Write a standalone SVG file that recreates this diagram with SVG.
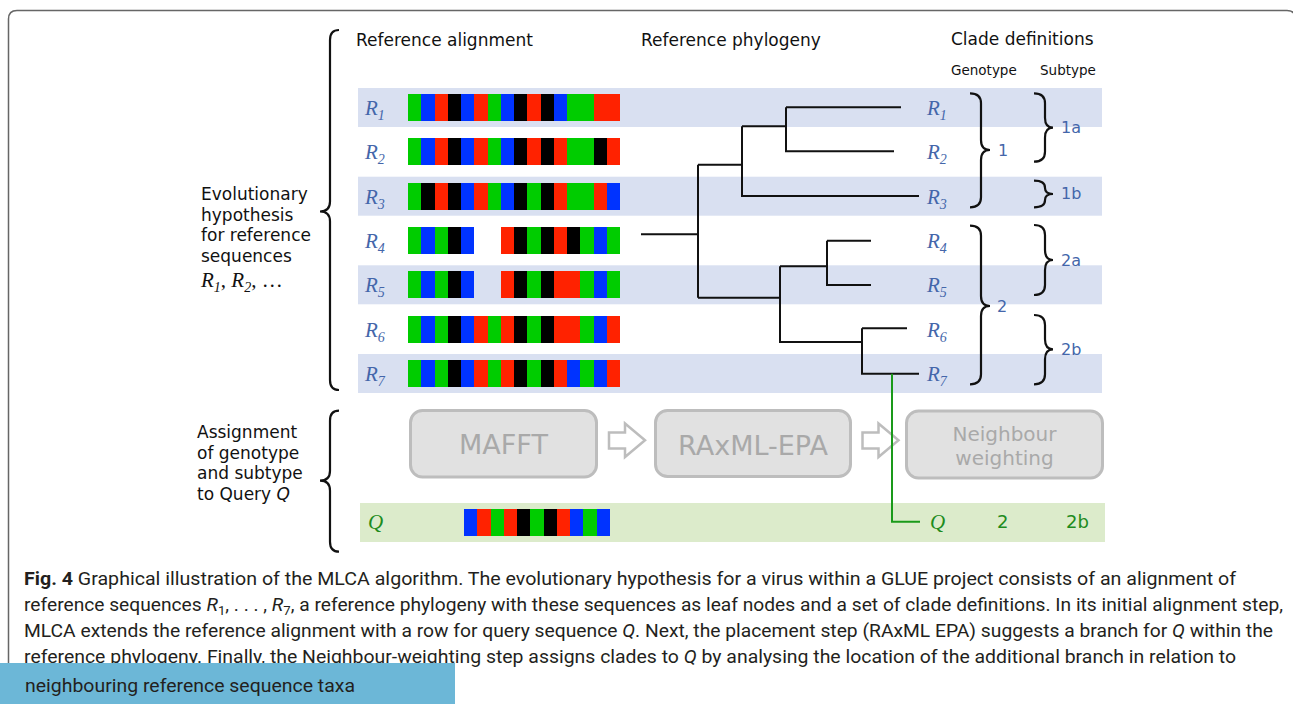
<svg xmlns="http://www.w3.org/2000/svg" width="1293" height="704" viewBox="0 0 1293 704">
<style>
.sans{font-family:"DejaVu Sans","Verdana",sans-serif;}
.hdr{font-family:"DejaVu Sans",sans-serif;font-size:17px;fill:#111;}
.small{font-family:"DejaVu Sans",sans-serif;font-size:13.5px;fill:#111;}
.rl{font-family:"Liberation Serif","Times New Roman",serif;font-style:italic;font-size:21px;fill:#4466aa;}
.sub{font-size:14px;}
.clade{font-family:"DejaVu Sans",sans-serif;font-size:16px;fill:#4466aa;}
.qg{fill:#1e8c1e;}
.band{fill:#d9e0f1;}
.g{fill:#00cc00;} .b{fill:#0033ff;} .r{fill:#ff2200;} .k{fill:#000;}
.cells rect{shape-rendering:crispEdges;}
.brace{fill:none;stroke:#111;stroke-width:2.2;}
.tree{fill:none;stroke:#111;stroke-width:2;}
.box{fill:#e1e1e1;stroke:#bdbdbd;stroke-width:3;}
.boxt{font-family:"DejaVu Sans",sans-serif;fill:#a9a9a9;text-anchor:middle;}
.arrow{fill:#fff;stroke:#bdbdbd;stroke-width:2.5;stroke-linejoin:miter;}
.cap{font-family:"Liberation Sans Narrow","Roboto","Open Sans",sans-serif;font-size:19px;fill:#231f20;}
</style>

<!-- frame -->
<path d="M8.5,704 V19 Q8.5,10.5 17,10.5 H1287 Q1295.5,10.5 1295.5,19 V704" fill="none" stroke="#666" stroke-width="1.5"/>

<!-- headers -->
<g id="headers">
<text class="hdr" x="356" y="46">Reference alignment</text>
<text class="hdr" x="641" y="46">Reference phylogeny</text>
<text class="hdr" x="951" y="45">Clade definitions</text>
<text class="small" x="951" y="75">Genotype</text>
<text class="small" x="1040" y="75">Subtype</text>
</g>

<!-- row bands -->
<g id="bands">
<rect class="band" x="358" y="88" width="744" height="39"/>
<rect class="band" x="358" y="176.7" width="744" height="39"/>
<rect class="band" x="358" y="265.3" width="744" height="39"/>
<rect class="band" x="358" y="354" width="744" height="39"/>
<rect x="360" y="503" width="745" height="39" fill="#dcebcb"/>
</g>

<!-- left group labels -->
<g id="label-evolutionary">
<path class="brace" d="M339,30 Q330,30 330,40 V201.5 Q330,211.5 320,211.5 Q330,211.5 330,221.5 V380 Q330,390 339,390"/>
<text class="hdr" x="201" y="200">Evolutionary</text>
<text class="hdr" x="201" y="220.7">hypothesis</text>
<text class="hdr" x="201" y="241.4">for reference</text>
<text class="hdr" x="201" y="262.1">sequences</text>
<text x="201" y="287" style="font-family:'Liberation Serif',serif;font-size:21px;fill:#111;"><tspan font-style="italic">R</tspan><tspan class="sub" font-style="italic" dy="5">1</tspan><tspan dy="-5">, </tspan><tspan font-style="italic">R</tspan><tspan class="sub" font-style="italic" dy="5">2</tspan><tspan dy="-5">, …</tspan></text>
</g>

<g id="label-assignment">
<path class="brace" d="M339,410.7 Q330,410.7 330,420.7 V470.7 Q330,480.7 320,480.7 Q330,480.7 330,490.7 V541.7 Q330,551.7 339,551.7"/>
<text class="hdr" x="197" y="438">Assignment</text>
<text class="hdr" x="197" y="458.7">of genotype</text>
<text class="hdr" x="197" y="479.4">and subtype</text>
<text class="hdr" x="197" y="500">to Query <tspan font-style="italic">Q</tspan></text>
</g>

<!-- alignment rows -->
<g id="row-R1">
<text class="rl" x="365" y="115">R<tspan class="sub" dy="5">1</tspan></text>
<g class="cells" transform="translate(0,94)">
<rect class="g" x="408" width="13.25" height="27"/><rect class="b" x="421.25" width="13.25" height="27"/><rect class="r" x="434.5" width="13.25" height="27"/><rect class="k" x="447.75" width="13.25" height="27"/><rect class="b" x="461" width="13.25" height="27"/><rect class="r" x="474.25" width="13.25" height="27"/><rect class="g" x="487.5" width="13.25" height="27"/><rect class="b" x="500.75" width="13.25" height="27"/><rect class="k" x="514" width="13.25" height="27"/><rect class="r" x="527.25" width="13.25" height="27"/><rect class="k" x="540.5" width="13.25" height="27"/><rect class="b" x="553.75" width="13.25" height="27"/><rect class="g" x="567" width="26.5" height="27"/><rect class="r" x="593.5" width="26.5" height="27"/>
</g>
</g>

<g id="row-R2">
<text class="rl" x="365" y="159.3">R<tspan class="sub" dy="5">2</tspan></text>
<g class="cells" transform="translate(0,138.3)">
<rect class="g" x="408" width="13.25" height="27"/><rect class="b" x="421.25" width="13.25" height="27"/><rect class="r" x="434.5" width="13.25" height="27"/><rect class="k" x="447.75" width="13.25" height="27"/><rect class="b" x="461" width="13.25" height="27"/><rect class="r" x="474.25" width="13.25" height="27"/><rect class="g" x="487.5" width="13.25" height="27"/><rect class="b" x="500.75" width="13.25" height="27"/><rect class="k" x="514" width="13.25" height="27"/><rect class="r" x="527.25" width="13.25" height="27"/><rect class="k" x="540.5" width="13.25" height="27"/><rect class="r" x="553.75" width="13.25" height="27"/><rect class="g" x="567" width="26.5" height="27"/><rect class="k" x="593.5" width="13.25" height="27"/><rect class="r" x="606.75" width="13.25" height="27"/>
</g>
</g>

<g id="row-R3">
<text class="rl" x="365" y="203.7">R<tspan class="sub" dy="5">3</tspan></text>
<g class="cells" transform="translate(0,182.7)">
<rect class="g" x="408" width="13.25" height="27"/><rect class="k" x="421.25" width="13.25" height="27"/><rect class="r" x="434.5" width="13.25" height="27"/><rect class="k" x="447.75" width="13.25" height="27"/><rect class="b" x="461" width="13.25" height="27"/><rect class="r" x="474.25" width="13.25" height="27"/><rect class="g" x="487.5" width="13.25" height="27"/><rect class="b" x="500.75" width="13.25" height="27"/><rect class="k" x="514" width="13.25" height="27"/><rect class="g" x="527.25" width="13.25" height="27"/><rect class="k" x="540.5" width="13.25" height="27"/><rect class="r" x="553.75" width="13.25" height="27"/><rect class="g" x="567" width="26.5" height="27"/><rect class="r" x="593.5" width="13.25" height="27"/><rect class="b" x="606.75" width="13.25" height="27"/>
</g>
</g>

<g id="row-R4">
<text class="rl" x="365" y="248">R<tspan class="sub" dy="5">4</tspan></text>
<g class="cells" transform="translate(0,227)">
<rect class="g" x="408" width="13.25" height="27"/><rect class="b" x="421.25" width="13.25" height="27"/><rect class="g" x="434.5" width="13.25" height="27"/><rect class="k" x="447.75" width="13.25" height="27"/><rect class="b" x="461" width="13.25" height="27"/><rect class="r" x="500.75" width="13.25" height="27"/><rect class="k" x="514" width="13.25" height="27"/><rect class="g" x="527.25" width="13.25" height="27"/><rect class="k" x="540.5" width="13.25" height="27"/><rect class="r" x="553.75" width="13.25" height="27"/><rect class="k" x="567" width="13.25" height="27"/><rect class="g" x="580.25" width="13.25" height="27"/><rect class="b" x="593.5" width="13.25" height="27"/><rect class="g" x="606.75" width="13.25" height="27"/>
</g>
</g>

<g id="row-R5">
<text class="rl" x="365" y="292.3">R<tspan class="sub" dy="5">5</tspan></text>
<g class="cells" transform="translate(0,271.3)">
<rect class="g" x="408" width="13.25" height="27"/><rect class="b" x="421.25" width="13.25" height="27"/><rect class="g" x="434.5" width="13.25" height="27"/><rect class="k" x="447.75" width="13.25" height="27"/><rect class="b" x="461" width="13.25" height="27"/><rect class="r" x="500.75" width="13.25" height="27"/><rect class="k" x="514" width="13.25" height="27"/><rect class="g" x="527.25" width="13.25" height="27"/><rect class="k" x="540.5" width="13.25" height="27"/><rect class="r" x="553.75" width="26.5" height="27"/><rect class="g" x="580.25" width="13.25" height="27"/><rect class="b" x="593.5" width="13.25" height="27"/><rect class="g" x="606.75" width="13.25" height="27"/>
</g>
</g>

<g id="row-R6">
<text class="rl" x="365" y="336.7">R<tspan class="sub" dy="5">6</tspan></text>
<g class="cells" transform="translate(0,315.7)">
<rect class="g" x="408" width="13.25" height="27"/><rect class="b" x="421.25" width="13.25" height="27"/><rect class="g" x="434.5" width="13.25" height="27"/><rect class="k" x="447.75" width="13.25" height="27"/><rect class="b" x="461" width="13.25" height="27"/><rect class="r" x="474.25" width="13.25" height="27"/><rect class="g" x="487.5" width="13.25" height="27"/><rect class="r" x="500.75" width="13.25" height="27"/><rect class="k" x="514" width="13.25" height="27"/><rect class="g" x="527.25" width="13.25" height="27"/><rect class="k" x="540.5" width="13.25" height="27"/><rect class="r" x="553.75" width="26.5" height="27"/><rect class="g" x="580.25" width="13.25" height="27"/><rect class="b" x="593.5" width="13.25" height="27"/><rect class="r" x="606.75" width="13.25" height="27"/>
</g>
</g>

<g id="row-R7">
<text class="rl" x="365" y="381">R<tspan class="sub" dy="5">7</tspan></text>
<g class="cells" transform="translate(0,360)">
<rect class="g" x="408" width="13.25" height="27"/><rect class="b" x="421.25" width="13.25" height="27"/><rect class="g" x="434.5" width="13.25" height="27"/><rect class="k" x="447.75" width="13.25" height="27"/><rect class="b" x="461" width="13.25" height="27"/><rect class="r" x="474.25" width="13.25" height="27"/><rect class="g" x="487.5" width="13.25" height="27"/><rect class="r" x="500.75" width="13.25" height="27"/><rect class="k" x="514" width="13.25" height="27"/><rect class="g" x="527.25" width="13.25" height="27"/><rect class="k" x="540.5" width="13.25" height="27"/><rect class="r" x="553.75" width="13.25" height="27"/><rect class="b" x="567" width="13.25" height="27"/><rect class="g" x="580.25" width="13.25" height="27"/><rect class="b" x="593.5" width="13.25" height="27"/><rect class="r" x="606.75" width="13.25" height="27"/>
</g>
</g>

<g id="row-Q">
<text class="rl qg" x="368" y="529">Q</text>
<g class="cells" transform="translate(0,509)">
<rect class="b" x="464" width="13.27" height="27"/><rect class="r" x="477.27" width="13.27" height="27"/><rect class="g" x="490.54" width="13.27" height="27"/><rect class="r" x="503.81" width="13.27" height="27"/><rect class="k" x="517.08" width="13.27" height="27"/><rect class="g" x="530.35" width="13.27" height="27"/><rect class="k" x="543.62" width="13.27" height="27"/><rect class="r" x="556.89" width="13.27" height="27"/><rect class="b" x="570.16" width="13.27" height="27"/><rect class="g" x="583.43" width="13.27" height="27"/><rect class="b" x="596.7" width="13.3" height="27"/>
</g>
<text class="rl qg" x="930" y="529">Q</text>
<text class="sans qg" x="997" y="528" font-size="18">2</text>
<text class="sans qg" x="1066" y="528" font-size="18">2b</text>
</g>

<!-- process steps -->
<g id="step-mafft">
<rect class="box" x="410.5" y="410.5" width="186" height="66.5" rx="12"/>
<text class="boxt" x="503.5" y="454" font-size="27">MAFFT</text>
</g>
<g id="step-raxml">
<rect class="box" x="655.5" y="410.5" width="195" height="66" rx="12"/>
<text class="boxt" x="753" y="455" font-size="27">RAxML-EPA</text>
</g>
<g id="step-neighbour">
<rect class="box" x="906.5" y="411" width="196" height="67" rx="12"/>
<text class="boxt" x="1004.5" y="441" font-size="20">Neighbour</text>
<text class="boxt" x="1004.5" y="464.5" font-size="20">weighting</text>
</g>

<!-- connectors -->
<g id="connectors">
<path class="arrow" d="M609,432.5 H625 V423.5 L645,440.3 L625,457 V448.5 H609 Z"/>
<path class="arrow" d="M862.5,432.5 H878.5 V423.5 L898.5,440.3 L878.5,457 V448.5 H862.5 Z"/>
<path class="tree" d="M641,234.3 H698 M698,164.7 V297.7 M698,164.7 H742 M742,126.3 V196 H919 M742,126.3 H786 M786,107.3 V151.3 H894 M786,107.3 H901 M698,297.7 H780 M780,266.3 V342 H862 M780,266.3 H827 M827,240.7 V285 H871 M827,240.7 H871 M862,328.3 V373.7 H919 M862,328.3 H907"/>
<path d="M892,373.7 V521.7 H920" fill="none" stroke="#1a9a1a" stroke-width="2"/>
</g>

<!-- tree leaf labels -->
<g id="leaves">
<text class="rl" x="927" y="115">R<tspan class="sub" dy="5">1</tspan></text>
<text class="rl" x="927" y="159.3">R<tspan class="sub" dy="5">2</tspan></text>
<text class="rl" x="927" y="203.7">R<tspan class="sub" dy="5">3</tspan></text>
<text class="rl" x="927" y="248">R<tspan class="sub" dy="5">4</tspan></text>
<text class="rl" x="927" y="292.3">R<tspan class="sub" dy="5">5</tspan></text>
<text class="rl" x="927" y="336.7">R<tspan class="sub" dy="5">6</tspan></text>
<text class="rl" x="927" y="381">R<tspan class="sub" dy="5">7</tspan></text>
</g>

<!-- clade braces -->
<g id="clade-1">
<path class="brace" d="M970,93.3 Q981,93.3 981,103.3 V140 Q981,150 990,150 Q981,150 981,160 V197.3 Q981,207.3 970,207.3"/>
<text class="clade" x="998" y="155.5">1</text>
</g>
<g id="clade-2">
<path class="brace" d="M970,225.7 Q981,225.7 981,235.7 V296 Q981,306 990,306 Q981,306 981,316 V374.3 Q981,384.3 970,384.3"/>
<text class="clade" x="997" y="311.5">2</text>
</g>
<g id="clade-1a">
<path class="brace" d="M1034,93.3 Q1045,93.3 1045,103.3 V117.7 Q1045,127.7 1053,127.7 Q1045,127.7 1045,137.7 V151.7 Q1045,161.7 1034,161.7"/>
<text class="clade" x="1061" y="133">1a</text>
</g>
<g id="clade-1b">
<path class="brace" d="M1034,180.7 Q1045,180.7 1045,187.7 V188 Q1045,194 1053,194 Q1045,194 1045,200 V200.3 Q1045,207.3 1034,207.3"/>
<text class="clade" x="1061" y="198.5">1b</text>
</g>
<g id="clade-2a">
<path class="brace" d="M1034,225 Q1045,225 1045,235 V250 Q1045,260 1053,260 Q1045,260 1045,270 V285 Q1045,295 1034,295"/>
<text class="clade" x="1061" y="265.5">2a</text>
</g>
<g id="clade-2b">
<path class="brace" d="M1034,315 Q1045,315 1045,325 V339.3 Q1045,349.3 1053,349.3 Q1045,349.3 1045,359.3 V374.3 Q1045,384.3 1034,384.3"/>
<text class="clade" x="1061" y="355">2b</text>
</g>

<!-- caption -->
<g id="caption">
<text class="cap" x="24" y="585" textLength="1212" lengthAdjust="spacingAndGlyphs"><tspan font-weight="bold">Fig. 4</tspan> Graphical illustration of the MLCA algorithm. The evolutionary hypothesis for a virus within a GLUE project consists of an alignment of</text>
<text class="cap" x="24" y="611" textLength="1259" lengthAdjust="spacingAndGlyphs">reference sequences <tspan font-style="italic">R</tspan><tspan font-size="13" dy="4">1</tspan><tspan dy="-4">, . . . , </tspan><tspan font-style="italic">R</tspan><tspan font-size="13" dy="4">7</tspan><tspan dy="-4">, a reference phylogeny with these sequences as leaf nodes and a set of clade definitions. In its initial alignment step,</tspan></text>
<text class="cap" x="24" y="637" textLength="1249" lengthAdjust="spacingAndGlyphs">MLCA extends the reference alignment with a row for query sequence <tspan font-style="italic">Q</tspan>. Next, the placement step (RAxML EPA) suggests a branch for <tspan font-style="italic">Q</tspan> within the</text>
<text class="cap" x="24" y="663" textLength="1212" lengthAdjust="spacingAndGlyphs">reference phylogeny. Finally, the Neighbour-weighting step assigns clades to <tspan font-style="italic">Q</tspan> by analysing the location of the additional branch in relation to</text>
<rect x="0" y="663" width="455" height="41" fill="#6cb7d7"/>
<text class="cap" x="25" y="692" textLength="330" lengthAdjust="spacingAndGlyphs">neighbouring reference sequence taxa</text>
</g>
</svg>
